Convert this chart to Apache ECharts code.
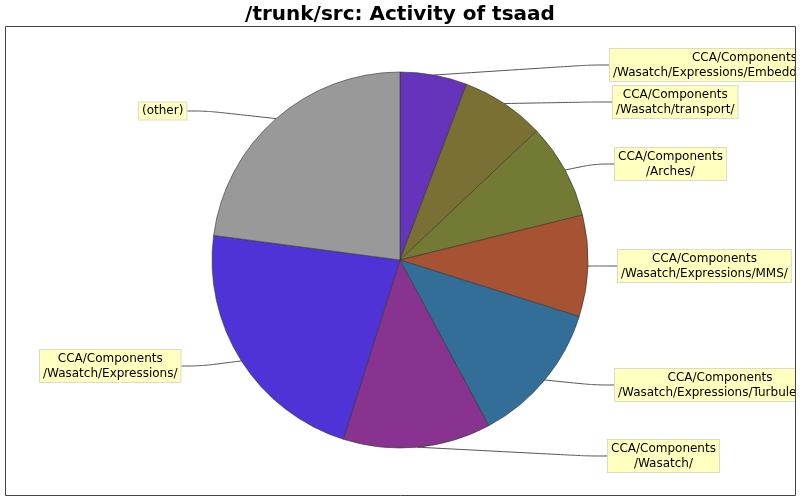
<!DOCTYPE html>
<html lang="en">
<head>
    <meta charset="UTF-8">
    <title>/trunk/src: Activity of tsaad</title>
    <script src="https://cdn.jsdelivr.net/npm/echarts@6/dist/echarts.min.js"></script>
    <style>
        html, body { margin: 0; padding: 0; background: #fff; }
        #main { width: 800px; height: 500px; }
    </style>
</head>
<body>
<div id="main"></div>
<script>
    // directories and their share of the activity, clockwise from 12 o'clock
    var dirs = [
        'CCA/Components\n/Wasatch/Expressions/EmbeddedGeometry/',
        'CCA/Components\n/Wasatch/transport/',
        'CCA/Components\n/Arches/',
        'CCA/Components\n/Wasatch/Expressions/MMS/',
        'CCA/Components\n/Wasatch/Expressions/Turbulence/',
        'CCA/Components\n/Wasatch/',
        'CCA/Components\n/Wasatch/Expressions/',
        '(other)'
    ];
    var share = [5.75, 7.2, 8.2, 8.7, 12.3, 12.7, 22.2, 22.9];
    var colors = ['#6633bb', '#7a7033', '#737a33', '#a65233', '#336e99', '#883390', '#4f33d6', '#999999'];

    // where the label boxes sit (left edge / center y)
    var labelAt = [
        [609, 65], [612, 102], [614, 164], [617, 266],
        [614, 385], [607, 456], [39, 366], [138, 111]
    ];

    var pieData = dirs.map(function (d, i) {
        return { name: d, value: share[i], itemStyle: { color: colors[i] } };
    });

    var myChart = echarts.init(document.getElementById('main'));
    var option = {
        animation: false,
        backgroundColor: '#ffffff',
        title: {
            text: '/trunk/src: Activity of tsaad',
            left: 'center',
            top: 0,
            textStyle: {
                fontFamily: 'DejaVu Sans',
                fontWeight: 'bold',
                fontSize: 20,
                color: '#000'
            }
        },
        graphic: [
            { type: 'rect', z: 100, shape: { x: 796, y: 0, width: 10, height: 500 }, style: { fill: '#fff' } },
            { type: 'rect', z: 101, shape: { x: 5.5, y: 26.5, width: 790, height: 469 }, style: { fill: null, stroke: '#444', lineWidth: 1 } }
        ],
        series: [{
            type: 'pie',
            center: [400, 260],
            radius: 188,
            startAngle: 90,
            clockwise: true,
            avoidLabelOverlap: false,
            itemStyle: { borderColor: '#333', borderWidth: 0.6 },
            emphasis: { disabled: true },
            label: {
                show: true,
                position: 'outside',
                fontFamily: 'DejaVu Sans',
                fontSize: 12,
                lineHeight: 15,
                color: '#000',
                align: 'center',
                backgroundColor: '#ffffc0',
                borderColor: '#dcdcc4',
                borderWidth: 1,
                padding: [1, 3, 1, 3]
            },
            labelLine: {
                show: true,
                smooth: 0.35,
                length: 20,
                length2: 20,
                lineStyle: { color: '#555', width: 1 }
            },
            labelLayout: function (p) {
                var a = labelAt[p.dataIndex];
                return {
                    x: a[0] + p.labelRect.width / 2,
                    y: a[1],
                    align: 'center',
                    verticalAlign: 'middle'
                };
            },
            data: pieData
        }]
    };
    myChart.setOption(option);
</script>
</body>
</html>
